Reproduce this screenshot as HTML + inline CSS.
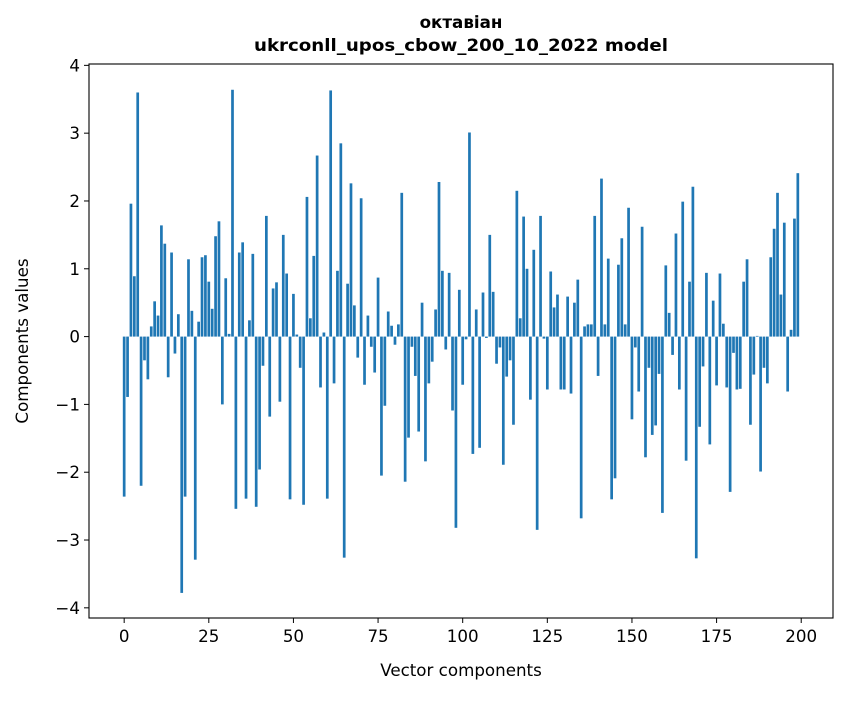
<!DOCTYPE html>
<html><head><meta charset="utf-8"><style>
body{margin:0;background:#fff;}
svg text{font-family:"DejaVu Sans","Liberation Sans",sans-serif;fill:#000;}
</style></head><body>
<svg id="chart" width="847" height="696" viewBox="0 0 847 696" xmlns="http://www.w3.org/2000/svg">
<rect width="847" height="696" fill="#fff"/>
<text x="461" y="28" text-anchor="middle" font-size="16.7" font-weight="bold">октавіан</text>
<text x="461" y="51" text-anchor="middle" font-size="16.7" font-weight="bold" textLength="414" lengthAdjust="spacingAndGlyphs">ukrconll_upos_cbow_200_10_2022 model</text>
<g id="bars"></g>
<g id="axes"></g>
<text x="461" y="676" text-anchor="middle" font-size="16.7">Vector components</text>
<text transform="translate(28,341) rotate(-90)" text-anchor="middle" font-size="16.7">Components values</text>
</svg>
<script>
const values = [
-2.36,-0.89,1.96,0.89,3.6,-2.2,-0.35,-0.63,0.15,0.52,
0.31,1.64,1.37,-0.6,1.24,-0.25,0.33,-3.78,-2.36,1.14,
0.38,-3.29,0.22,1.17,1.2,0.81,0.41,1.48,1.70,-1.0,
0.86,0.04,3.64,-2.54,1.24,1.39,-2.39,0.24,1.22,-2.51,
-1.96,-0.43,1.78,-1.18,0.71,0.80,-0.96,1.50,0.93,-2.40,
0.63,0.03,-0.46,-2.48,2.06,0.27,1.19,2.67,-0.75,0.06,
-2.39,3.63,-0.69,0.97,2.85,-3.26,0.78,2.26,0.46,-0.31,
2.04,-0.71,0.31,-0.15,-0.53,0.87,-2.05,-1.02,0.37,0.16,
-0.12,0.18,2.12,-2.14,-1.49,-0.15,-0.58,-1.40,0.50,-1.84,
-0.69,-0.37,0.40,2.28,0.97,-0.19,0.94,-1.09,-2.82,0.69,
-0.71,-0.04,3.01,-1.73,0.40,-1.64,0.65,-0.02,1.50,0.66,
-0.40,-0.16,-1.89,-0.59,-0.35,-1.30,2.15,0.27,1.77,1.0,
-0.93,1.28,-2.85,1.78,-0.03,-0.78,0.96,0.43,0.62,-0.78,
-0.78,0.59,-0.84,0.50,0.84,-2.68,0.15,0.18,0.18,1.78,
-0.58,2.33,0.18,1.15,-2.40,-2.09,1.06,1.45,0.18,1.90,
-1.22,-0.16,-0.81,1.62,-1.78,-0.46,-1.45,-1.31,-0.55,-2.60,
1.05,0.35,-0.27,1.52,-0.78,1.99,-1.83,0.81,2.21,-3.27,
-1.33,-0.44,0.94,-1.59,0.53,-0.72,0.93,0.19,-0.75,-2.29,
-0.24,-0.78,-0.77,0.81,1.14,-1.30,-0.56,0.01,-1.99,-0.46,
-0.69,1.17,1.59,2.12,0.62,1.68,-0.81,0.10,1.74,2.41
];
const xTicks = [0,25,50,75,100,125,150,175,200];
const yTicks = [-4,-3,-2,-1,0,1,2,3,4];
const L=89,R=833,T=64,B=618;
const xMin=-10.39,xMax=209.39;
const yMin=-4.15,yMax=4.02;
function sx(v){return L+(v-xMin)/(xMax-xMin)*(R-L);}
function sy(v){return B-(v-yMin)/(yMax-yMin)*(B-T);}
const NS="http://www.w3.org/2000/svg";
const bars=document.getElementById('bars');
values.forEach((v,i)=>{
  const r=document.createElementNS(NS,'rect');
  const x0=sx(i-0.4),x1=sx(i+0.4);
  const y0=sy(Math.max(v,0)),y1=sy(Math.min(v,0));
  r.setAttribute('x',x0);r.setAttribute('width',x1-x0);
  r.setAttribute('y',y0);r.setAttribute('height',Math.max(y1-y0,0.3));
  r.setAttribute('fill','#1f77b4');
  
  
  bars.appendChild(r);
});
const axes=document.getElementById('axes');
const frame=document.createElementNS(NS,'rect');
frame.setAttribute('x',L);frame.setAttribute('y',T);frame.setAttribute('width',R-L);frame.setAttribute('height',B-T);
frame.setAttribute('fill','none');frame.setAttribute('stroke','#000');frame.setAttribute('stroke-width','1.1');


axes.appendChild(frame);
xTicks.forEach(t=>{
  const x=sx(t);
  const l=document.createElementNS(NS,'line');
  l.setAttribute('x1',x);l.setAttribute('x2',x);l.setAttribute('y1',B);l.setAttribute('y2',B+5);
  l.setAttribute('stroke','#000');
  
  
  axes.appendChild(l);
  const tx=document.createElementNS(NS,'text');
  tx.setAttribute('x',x);tx.setAttribute('y',B+24);tx.setAttribute('text-anchor','middle');tx.setAttribute('font-size','16.7');
  tx.textContent=t;
  
  
  axes.appendChild(tx);
});
yTicks.forEach(t=>{
  const y=sy(t);
  const l=document.createElementNS(NS,'line');
  l.setAttribute('x1',L-5);l.setAttribute('x2',L);l.setAttribute('y1',y);l.setAttribute('y2',y);
  l.setAttribute('stroke','#000');
  
  
  axes.appendChild(l);
  const tx=document.createElementNS(NS,'text');
  tx.setAttribute('x',L-9);tx.setAttribute('y',y+6);tx.setAttribute('text-anchor','end');tx.setAttribute('font-size','16.7');
  tx.textContent=t<0?'\u2212'+Math.abs(t):String(t);
  
  
  axes.appendChild(tx);
});
</script>
</body></html>
